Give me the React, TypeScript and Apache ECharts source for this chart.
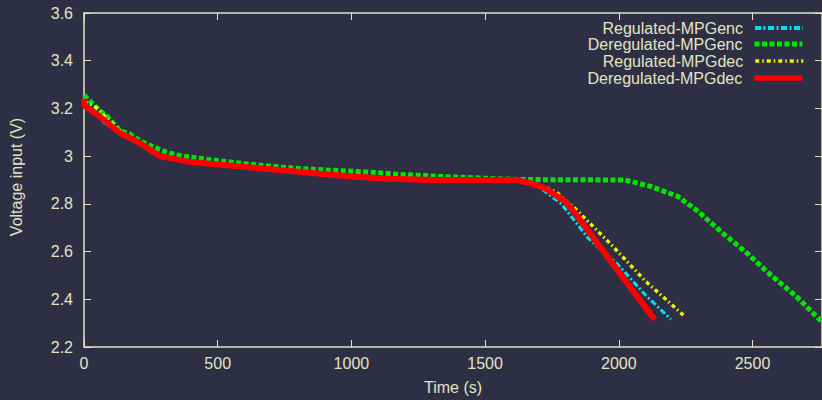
import React, { useEffect, useRef } from "react";
import * as echarts from "echarts";

const seriesNames = [
  "Regulated-MPGenc",
  "Deregulated-MPGenc",
  "Regulated-MPGdec",
  "Deregulated-MPGdec",
];

const regEnc: [number, number][] = [
  [0, 3.23], [20, 3.2], [82, 3.135], [134, 3.095], [209, 3.05], [283, 2.995],
  [400, 2.972], [600, 2.952], [800, 2.933], [1000, 2.914], [1140, 2.904],
  [1300, 2.9], [1613, 2.9], [1699, 2.873], [1785, 2.8], [1885, 2.657],
  [1997, 2.545], [2098, 2.42], [2195, 2.316],
];

const deregEnc: [number, number][] = [
  [0, 3.255], [22, 3.231], [60, 3.19], [85, 3.169], [134, 3.107], [171, 3.093],
  [209, 3.065], [246, 3.045], [283, 3.028], [308, 3.017], [358, 3.003],
  [395, 2.996], [469, 2.985], [544, 2.976], [618, 2.966], [693, 2.959],
  [805, 2.948], [1054, 2.934], [1177, 2.924], [1326, 2.915], [1624, 2.902],
  [2023, 2.9], [2120, 2.873], [2221, 2.831], [2295, 2.77], [2396, 2.67],
  [2470, 2.603], [2567, 2.503], [2668, 2.408], [2750, 2.316], [2790, 2.28],
];

const regDec: [number, number][] = [
  [0, 3.23], [45, 3.205], [134, 3.105], [283, 3.002], [400, 2.976],
  [600, 2.955], [800, 2.935], [1000, 2.915], [1140, 2.905], [1300, 2.9],
  [1620, 2.9], [1700, 2.88], [1766, 2.85], [1800, 2.815], [1837, 2.78],
  [1971, 2.63], [2098, 2.478], [2250, 2.325],
];

const deregDec: [number, number][] = [
  [0, 3.24], [3, 3.21], [60, 3.165], [134, 3.097], [209, 3.055], [283, 3.0],
  [400, 2.975], [600, 2.955], [800, 2.935], [1000, 2.915], [1140, 2.905],
  [1300, 2.9], [1610, 2.9], [1660, 2.89], [1724, 2.865], [1800, 2.81],
  [1847, 2.745], [1970, 2.56], [2134, 2.315],
];

const xTicks = { min: 0, max: 2760, interval: 500 };
const yTicks = { min: 2.2, max: 3.6, interval: 0.2 };

const FG = "#e4e4c2";
const BG = "#2e2f44";
const FONT = "'Liberation Sans', Arial, sans-serif";

export default function App() {
  const ref = useRef<HTMLDivElement>(null);
  useEffect(() => {
    if (!ref.current) return;
    const chart = echarts.init(ref.current, undefined, { renderer: "svg" });
    const axisCommon = {
      type: "value" as const,
      axisLine: { show: true, onZero: false, lineStyle: { color: FG, width: 1.5 } },
      axisTick: { show: true, inside: true, length: 7, lineStyle: { color: FG, width: 1 } },
      splitLine: { show: false },
    };
    const legendTops = [20, 36, 53, 70];
    const colors = ["#00e2f2", "#00e800", "#f0f000", "#ff0000"];
    const widths = [3, 5, 3.5, 6];
    const legendWidths = [4, 5, 3.5, 5.5];
    const dashes: any[] = [[6, 2.5, 2, 2.5], [5, 2.5], [4, 3, 1.5, 3], "solid"];
    const datas = [regEnc, deregEnc, regDec, deregDec];
    chart.setOption({
      animation: false,
      backgroundColor: BG,
      textStyle: { fontFamily: FONT },
      grid: { left: 84, top: 13, right: -3, bottom: 50, containLabel: false },
      xAxis: [
        {
          ...axisCommon,
          position: "bottom",
          min: xTicks.min,
          max: xTicks.max,
          interval: xTicks.interval,
          axisLabel: {
            color: FG, fontSize: 16, margin: 8, fontFamily: FONT,
            showMaxLabel: false,
            formatter: (v: number) => String(v),
          },
          name: "Time (s)",
          nameLocation: "middle",
          nameGap: 32,
          nameTextStyle: { color: FG, fontSize: 16, fontFamily: FONT },
        },
        {
          ...axisCommon,
          position: "top",
          min: xTicks.min,
          max: xTicks.max,
          interval: xTicks.interval,
          axisLabel: { show: false },
        },
      ],
      yAxis: [
        {
          ...axisCommon,
          position: "left",
          min: yTicks.min,
          max: yTicks.max,
          interval: yTicks.interval,
          axisLabel: {
            color: FG, fontSize: 16, margin: 11, fontFamily: FONT,
            formatter: (v: number) => String(Math.round(v * 10) / 10),
          },
        },
        {
          ...axisCommon,
          position: "right",
          min: yTicks.min,
          max: yTicks.max,
          interval: yTicks.interval,
          axisLabel: { show: false },
        },
      ],
      legend: seriesNames.map((n, i) => ({
        data: [n],
        orient: "vertical",
        right: 17,
        top: legendTops[i],
        align: "right",
        padding: 0,
        itemWidth: 48,
        itemHeight: 16,
        selectedMode: false,
        itemStyle: { color: "transparent", borderWidth: 0, opacity: 0 },
        lineStyle: {
          color: colors[i],
          width: legendWidths[i],
          type: dashes[i],
          cap: "butt",
        },
        textStyle: { color: FG, fontSize: 16, fontFamily: FONT, padding: [0, 7, 0, 0] },
      })),
      graphic: [
        {
          type: "text",
          x: 16,
          y: 177,
          rotation: Math.PI / 2,
          style: {
            text: "Voltage input (V)",
            fill: FG,
            font: `16px ${FONT}`,
            textAlign: "center",
            textVerticalAlign: "middle",
          },
        },
      ],
      series: seriesNames.map((n, i) => ({
        name: n,
        type: "line",
        data: datas[i],
        symbol: "none",
        showSymbol: false,
        smooth: false,
        color: colors[i],
        lineStyle: { color: colors[i], width: widths[i], type: dashes[i], cap: "butt" },
        emphasis: { disabled: true },
        z: 2 + i,
      })),
    });
    return () => chart.dispose();
  }, []);
  return (
    <div
      ref={ref}
      style={{ position: "fixed", left: 0, top: 0, width: 822, height: 400 }}
    />
  );
}
